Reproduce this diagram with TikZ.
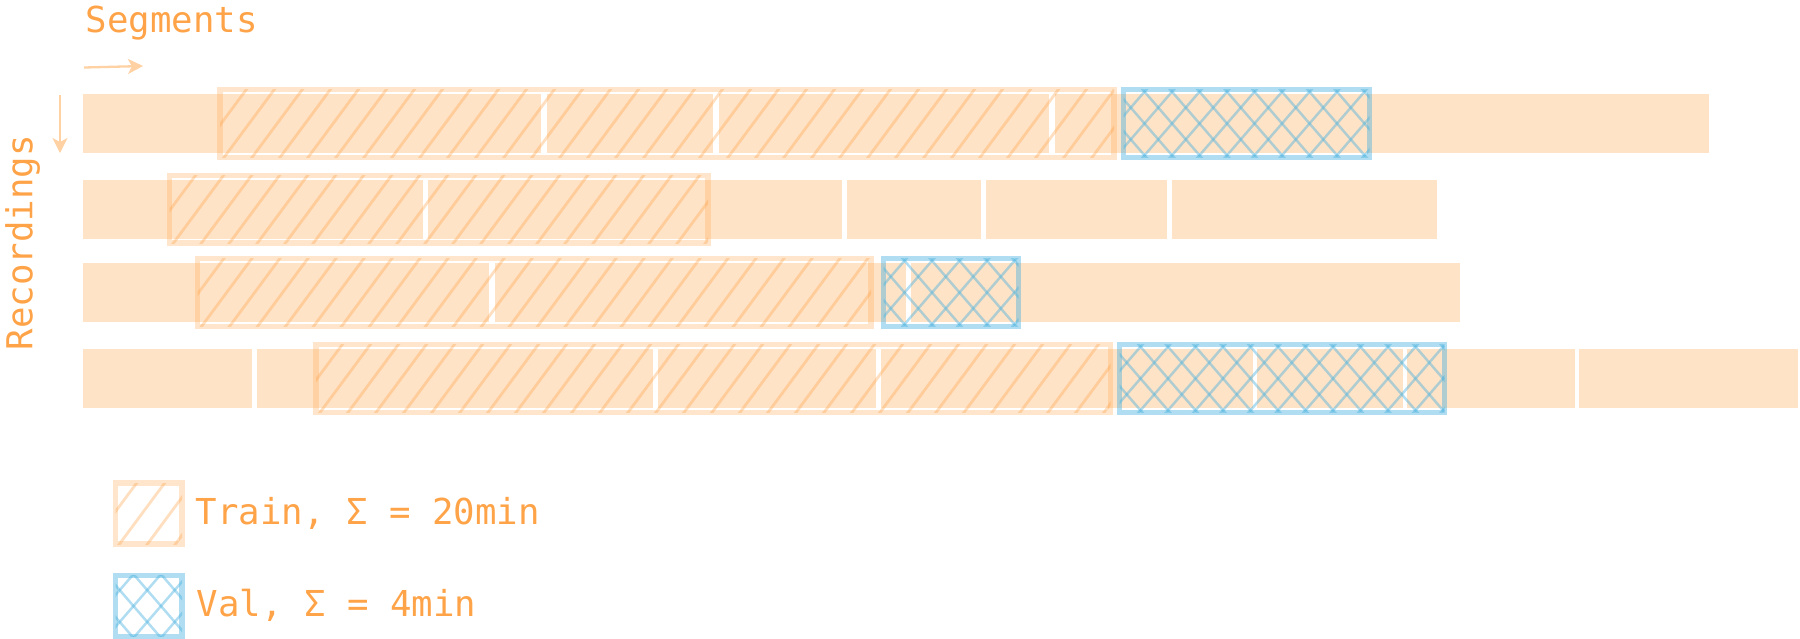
\documentclass[tikz,border=0pt]{standalone}
\usepackage{fontspec}
\setmonofont{DejaVu Sans Mono}
\usetikzlibrary{arrows.meta}
\definecolor{splitink}{RGB}{255,163,72}
\definecolor{splitbar}{RGB}{255,227,199}
\definecolor{splitblue}{RGB}{79,179,223}

\begin{document}
\begin{tikzpicture}[x=0.01cm,y=-0.01cm,
  lbl/.style={text=splitink,inner sep=0pt,font=\ttfamily\fontsize{10.16}{12}\selectfont},
  seg/.style={fill=splitbar},
  tr/.style={draw=splitink,draw opacity=0.28,line width=0.055cm},
  va/.style={draw=splitblue,draw opacity=0.45,line width=0.055cm},
  trh/.style={draw=splitink,draw opacity=0.35,line width=0.028cm},
  vah/.style={draw=splitblue,draw opacity=0.45,line width=0.025cm},
  ax/.style={draw=splitink!50,line width=0.023cm,-{Stealth[length=0.15cm,width=0.15cm,inset=0.04cm]}}]
\useasboundingbox (0,0) rectangle (1800,638);
% Cajas rayadas: x1, x2, arriba, abajo
\newcommand{\trainbox}[4]{%
  \begin{scope}
    \clip (#1,#3) rectangle (#2,#4);
    \pgfmathtruncatemacro{\nh}{(#2-#1)/28+3}
    \foreach \k in {0,...,\nh}
      \draw[trh] ({#1-55+\k*28},{#4+4}) -- ++(60,-81);
  \end{scope}
  \draw[tr] (#1,#3) rectangle (#2,#4);}
\newcommand{\valbox}[4]{%
  \begin{scope}
    \clip (#1,#3) rectangle (#2,#4);
    \pgfmathtruncatemacro{\nh}{(#2-#1)/27.5+5}
    \foreach \k in {0,...,\nh}{
      \draw[vah] ({#1-66+\k*27.5},{#4+3}) -- ++(64,-74);
      \draw[vah] ({#1-66+\k*27.5},{#3-3}) -- ++(64,74);}
  \end{scope}
  \draw[va] (#1,#3) rectangle (#2,#4);}
% Segmentos de cada grabacion
\foreach \a/\b in {83.3/540.7,546.7/713.3,718.7/1049.3,1055/1709.3}
  \fill[seg] (\a,94) rectangle (\b,153);
\foreach \a/\b in {83.3/423.3,428.3/842.3,847.3/981.3,986.3/1167.3,1171.7/1437}
  \fill[seg] (\a,179.5) rectangle (\b,238.5);
\foreach \a/\b in {83.3/489.3,495/905.5,910.5/1460}
  \fill[seg] (\a,263) rectangle (\b,322);
\foreach \a/\b in {83.3/252.3,256.7/653.3,658.3/875.7,880.7/1253.3,1257.3/1403.3,1406.7/1575.3,1579.3/1798.3}
  \fill[seg] (\a,349) rectangle (\b,408);
% Train / Val
\trainbox{220}{1114}{89.5}{157.5}
\valbox{1123.5}{1369.5}{89.5}{157.5}
\trainbox{169.5}{708}{175.5}{243}
\trainbox{197.5}{871}{258.5}{326.5}
\valbox{883.5}{1018.5}{258.5}{326.5}
\trainbox{316}{1110.5}{344.5}{412.5}
\valbox{1119.5}{1444.5}{344.5}{412.5}
% Ejes
\node[lbl,anchor=base west] (segLabel) at (85,32.3) {Segments};
\node[lbl,anchor=base west,rotate=90] (recLabel) at (32.3,351) {Recordings};
\coordinate (segTail) at (84,67.5); \coordinate (segHead) at (143,66);
\coordinate (recTail) at (60,95); \coordinate (recHead) at (60,153);
\draw[ax] (segTail) -- (segHead);
\draw[ax] (recTail) -- (recHead);
% Leyenda
\trainbox{115.5}{182}{483}{544}
\valbox{115.5}{182}{575.5}{636.5}
\node[lbl,anchor=base west] (trainLabel) at (195,524) {Train, Σ = 20min};
\node[lbl,anchor=base west] (valLabel) at (196,616) {Val, Σ = 4min};
\end{tikzpicture}
\end{document}
